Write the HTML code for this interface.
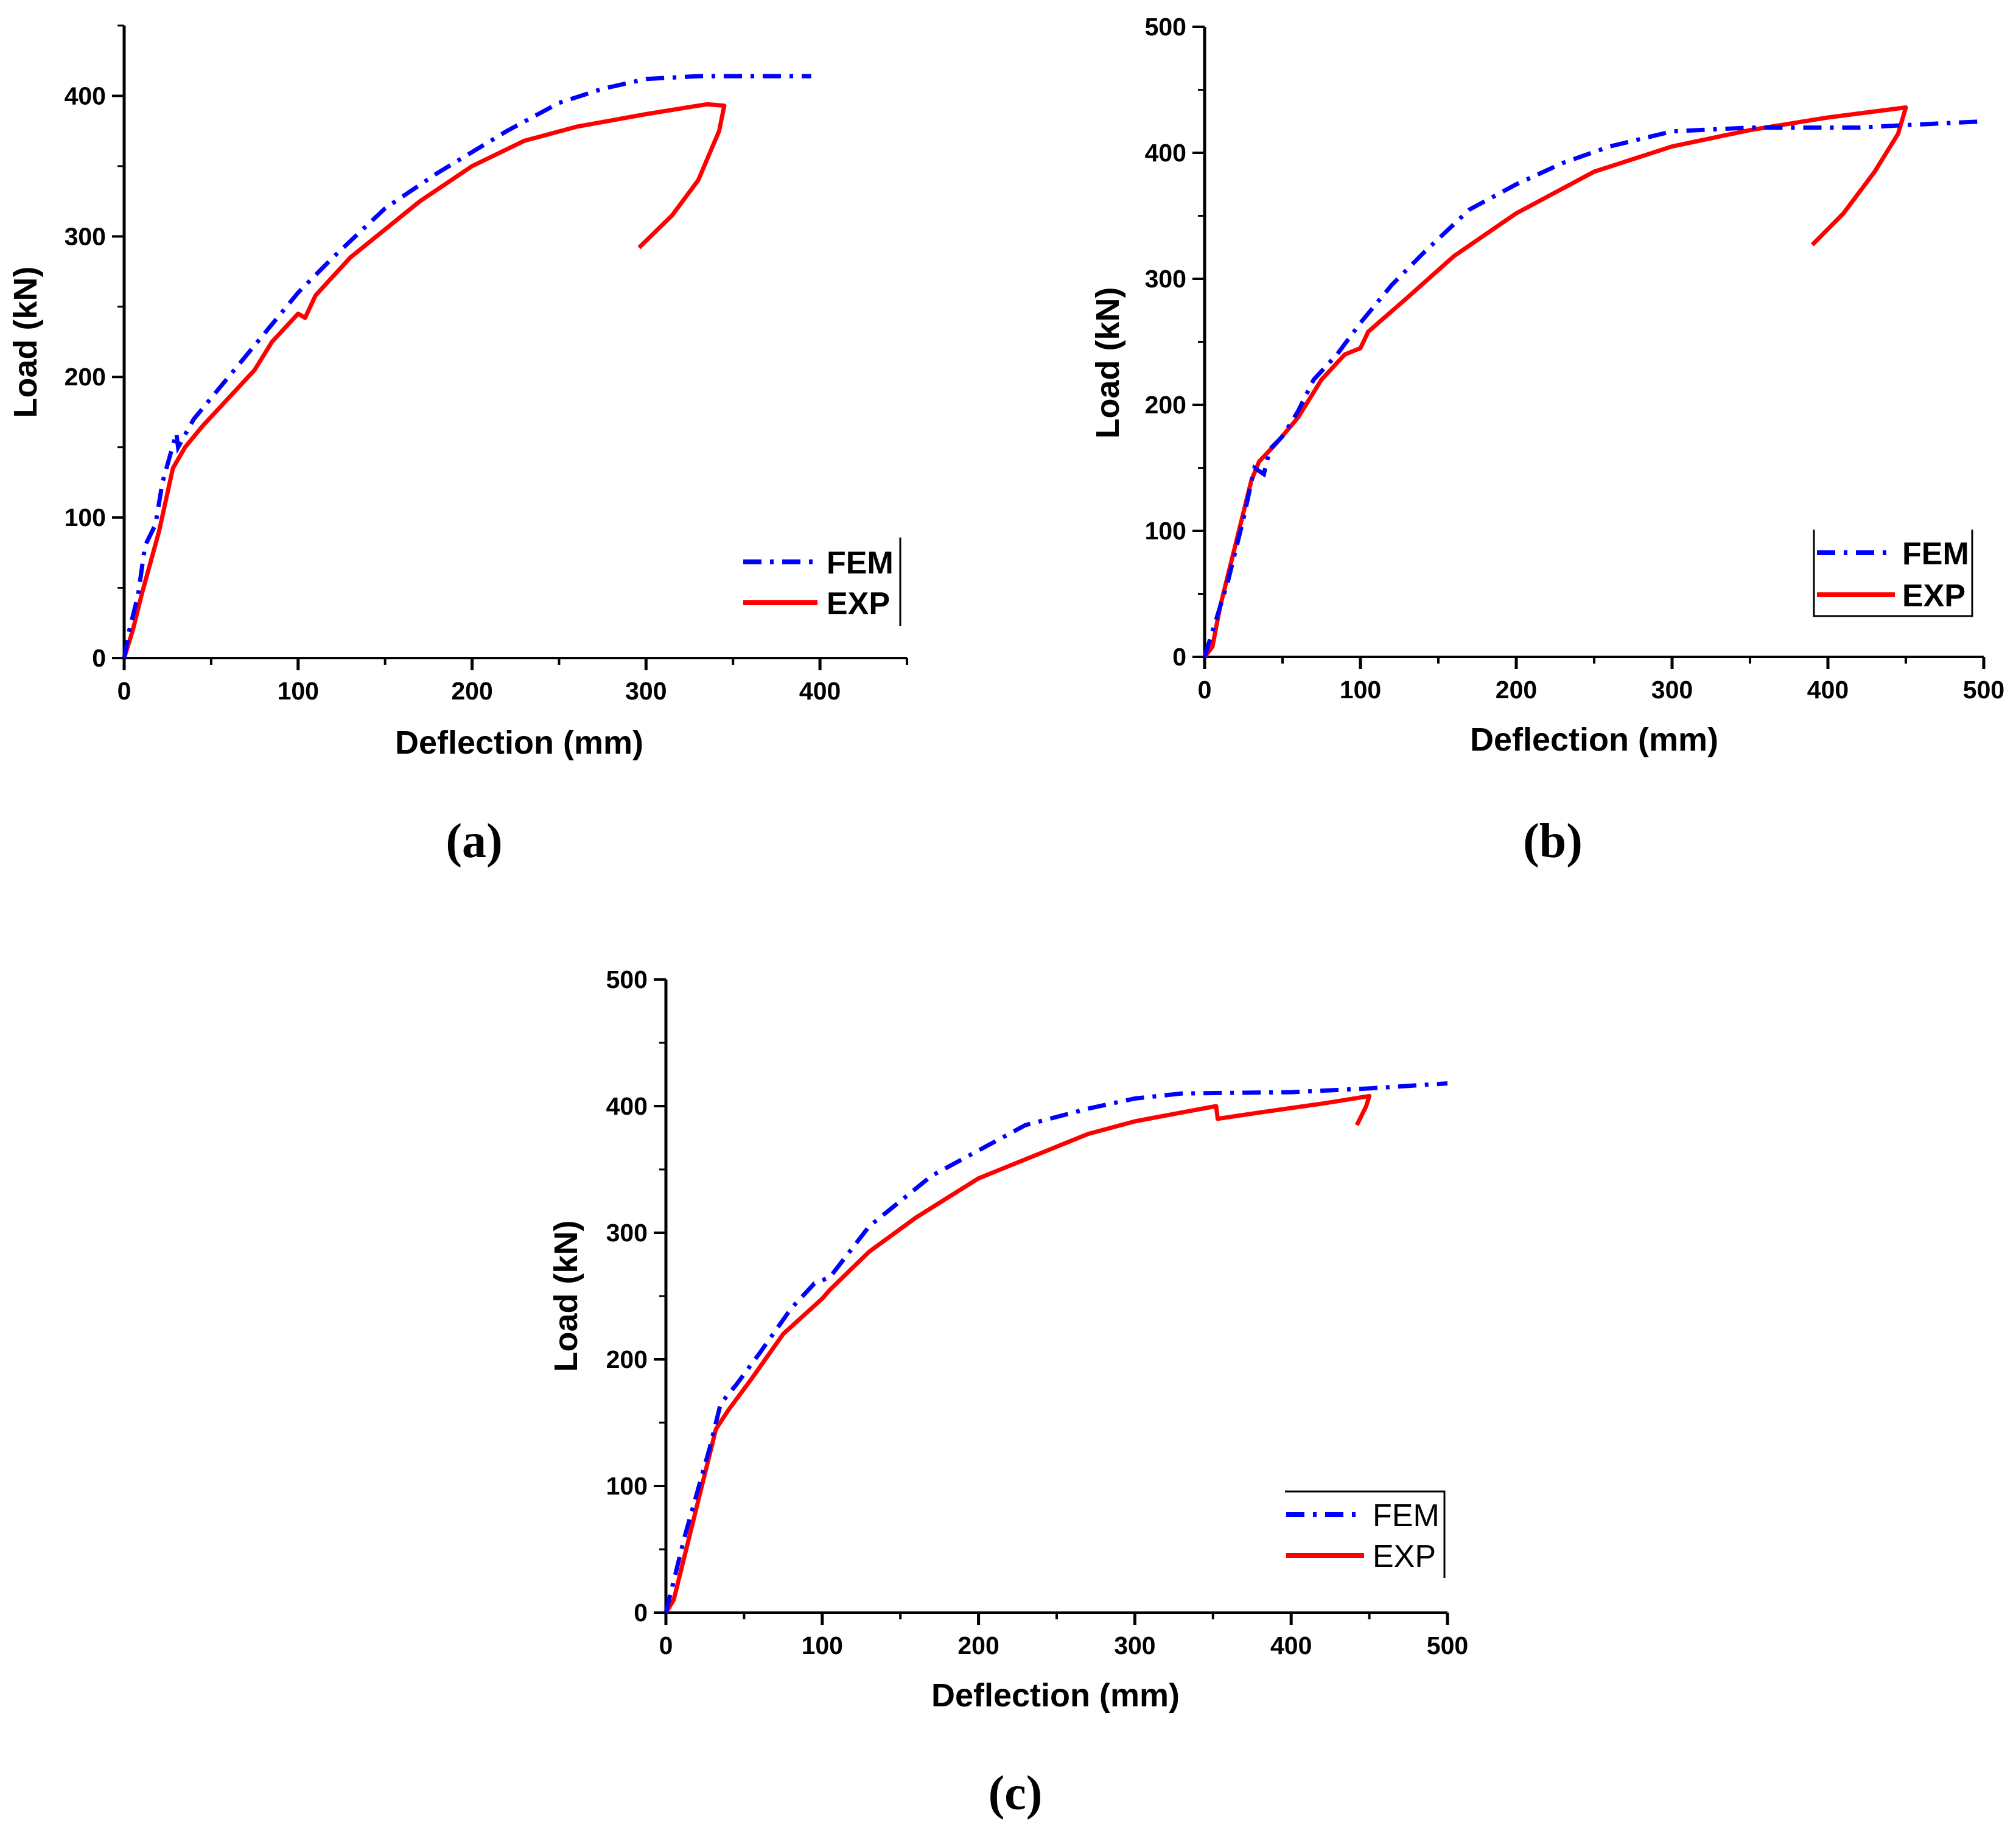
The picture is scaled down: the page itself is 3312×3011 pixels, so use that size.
<!DOCTYPE html>
<html><head><meta charset="utf-8">
<style>
html,body{margin:0;padding:0;background:#fff;}
svg{display:block;}
text{font-family:"Liberation Sans",Arial,sans-serif;}
.tick{font-weight:bold;font-size:41px;fill:#000;}
.title{font-weight:bold;font-size:54px;fill:#000;}
.cap{font-family:"Liberation Serif",serif;font-size:80px;fill:#000;font-weight:600;}
</style></head>
<body>
<svg id="fig" width="3312" height="3011" viewBox="0 0 3312 3011" xmlns="http://www.w3.org/2000/svg"></svg>
<script>
// ---- data (deflection mm, load kN) ----
const aExpX = [0,5,10,20,28,35,45,60,75,85,100,104,110,130,150,170,200,230,260,300,320,335,345,342,330,315,296];
const aExpY = [0,20,45,90,135,150,165,185,205,225,245,242,258,285,305,325,350,368,378,387,391,394,393,375,340,315,292];
const aFemX = [0,3,8,12,18,22,30,31,40,60,80,100,120,150,180,200,220,250,275,300,330,395];
const aFemY = [0,20,45,80,95,125,160,150,170,200,230,260,285,320,345,360,375,395,405,412,414,414];
const bExpX = [0,5,10,20,30,35,45,60,75,90,100,105,130,160,200,250,300,350,400,450,445,430,410,390];
const bExpY = [0,8,40,90,140,155,168,190,220,240,245,258,285,318,352,385,405,418,428,436,415,385,352,327];
const bFemX = [0,5,15,25,32,38,42,50,60,70,85,100,120,140,170,200,230,260,300,350,390,420,450,500];
const bFemY = [0,20,60,110,150,145,165,175,195,220,240,265,295,320,355,375,392,405,417,420,420,420,422,425];
const cExpX = [0,5,15,25,32,40,55,75,100,105,130,160,200,250,270,300,330,352,353,380,420,450,448,442];
const cExpY = [0,10,60,110,145,160,185,220,248,255,285,312,343,368,378,388,395,400,390,395,402,408,400,385];
const cFemX = [0,5,12,20,28,35,45,60,80,95,105,130,150,170,200,230,270,300,330,400,450,500];
const cFemY = [0,25,60,95,130,165,180,205,240,260,265,305,325,345,365,385,398,406,410,411,414,418];
const aXTicks = [0,100,200,300,400];
const aYTicks = [0,100,200,300,400];
const bcXTicks = [0,100,200,300,400,500];
const bcYTicks = [0,100,200,300,400,500];

const NS = "http://www.w3.org/2000/svg";
const fig = document.getElementById('fig');
function mk(tag, attrs, parent){
  const e = document.createElementNS(NS, tag);
  for (const k in attrs) e.setAttribute(k, attrs[k]);
  (parent||fig).appendChild(e);
  return e;
}

function chart(id, P, xTicks, yTicks, femX, femY, expX, expY, leg){
  const g = mk('g', {});
  
  
  const sx = v => P.x0 + (v - 0) / P.xmax * (P.x1 - P.x0);
  const sy = v => P.y0 - v / P.ymax * (P.y0 - P.y1);
  const ax = mk('line', {x1:P.x0, y1:P.y0, x2:P.x0, y2:P.y1, stroke:'#000','stroke-width':5}, g);
  
  
  const axx = mk('line', {x1:P.x0-2, y1:P.y0, x2:P.x1, y2:P.y0, stroke:'#000','stroke-width':4}, g);
  
  
  for (let v = 0; v <= P.xmax + 0.01; v += 50){
    const major = v % 100 === 0;
    mk('line', {x1:sx(v), y1:P.y0, x2:sx(v), y2:P.y0 + (major?20:11), stroke:'#000','stroke-width':major?5:4}, g);
  }
  for (let v = 0; v <= P.ymax + 0.01; v += 50){
    const major = v % 100 === 0;
    mk('line', {x1:P.x0, y1:sy(v), x2:P.x0 - (major?20:11), y2:sy(v), stroke:'#000','stroke-width':major?4:3}, g);
  }
  xTicks.forEach(v => {
    const t = mk('text', {x:sx(v), y:P.y0 + 68, 'text-anchor':'middle', class:'tick'}, g);
    t.textContent = v;
    
    
  });
  yTicks.forEach(v => {
    const t = mk('text', {x:P.x0 - 30, y:sy(v) + 14, 'text-anchor':'end', class:'tick'}, g);
    t.textContent = v;
    
    
  });
  const xt = mk('text', {x:P.xtx, y:P.xty, 'text-anchor':'middle', class:'title'}, g);
  xt.textContent = 'Deflection (mm)';
  
  
  const yt = mk('text', {x:0, y:0, 'text-anchor':'middle', class:'title', transform:'translate(' + P.ytx + ',' + P.yty + ') rotate(-90)'}, g);
  yt.textContent = 'Load (kN)';
  
  
  const pts = (X, Y) => X.map((x, i) => sx(x).toFixed(1) + ',' + sy(Y[i]).toFixed(1)).join(' ');
  const exp = mk('polyline', {points:pts(expX, expY), fill:'none', stroke:'#ff0000','stroke-width':7,'stroke-linejoin':'round'}, g);
  
  
  const fem = mk('polyline', {points:pts(femX, femY), fill:'none', stroke:'#0000ff','stroke-width':7,'stroke-dasharray':'30 14 6 14'}, g);
  
  
  const lg = mk('g', {}, g);
  
  
  if (leg.border) mk('path', {d:leg.border, fill:'none', stroke:'#000','stroke-width':3}, lg);
  const l1 = mk('line', {x1:leg.lx0, y1:leg.fy, x2:leg.lx1, y2:leg.fy, stroke:'#0000ff','stroke-width':8,'stroke-dasharray':'30 14 6 14'}, lg);
  
  
  const l2 = mk('line', {x1:leg.lx0, y1:leg.ey, x2:leg.lx1, y2:leg.ey, stroke:'#ff0000','stroke-width':8}, lg);
  
  
  const t1 = mk('text', {x:leg.tx, y:leg.fy + 19, style:'font-size:52px;font-weight:' + leg.w}, lg);
  t1.textContent = 'FEM';
  
  
  const t2 = mk('text', {x:leg.tx, y:leg.ey + 19, style:'font-size:52px;font-weight:' + leg.w}, lg);
  t2.textContent = 'EXP';
  
  
  const c = mk('text', {x:P.capx, y:P.capy, 'text-anchor':'middle', class:'cap'}, g);
  c.textContent = '(' + id + ')';
  
  
}

chart('a', {x0:204, x1:1490, xmax:450, y0:1081, y1:42, ymax:450, xtx:853, xty:1238, ytx:60, yty:562, capx:779, capy:1408},
  aXTicks, aYTicks, aFemX, aFemY, aExpX, aExpY,
  {border:'M1479,883 L1479,1028', lx0:1221, lx1:1343, fy:923, ey:990, tx:1358, w:'bold'});
chart('b', {x0:1979, x1:3259, xmax:500, y0:1079, y1:44, ymax:500, xtx:2619, xty:1233, ytx:1838, yty:596, capx:2551, capy:1408},
  bcXTicks, bcYTicks, bFemX, bFemY, bExpX, bExpY,
  {border:'M2980,870 L2980,1012 L3240,1012 L3240,870', lx0:2985, lx1:3113, fy:908, ey:977, tx:3125, w:'bold'});
chart('c', {x0:1094, x1:2378, xmax:500, y0:2649, y1:1609, ymax:500, xtx:1734, xty:2803, ytx:948, yty:2129, capx:1668, capy:2972},
  bcXTicks, bcYTicks, cFemX, cFemY, cExpX, cExpY,
  {border:'M2111,2450 L2373,2450 L2373,2592', lx0:2113, lx1:2241, fy:2488, ey:2555, tx:2255, w:'normal'});
</script>
</body></html>
